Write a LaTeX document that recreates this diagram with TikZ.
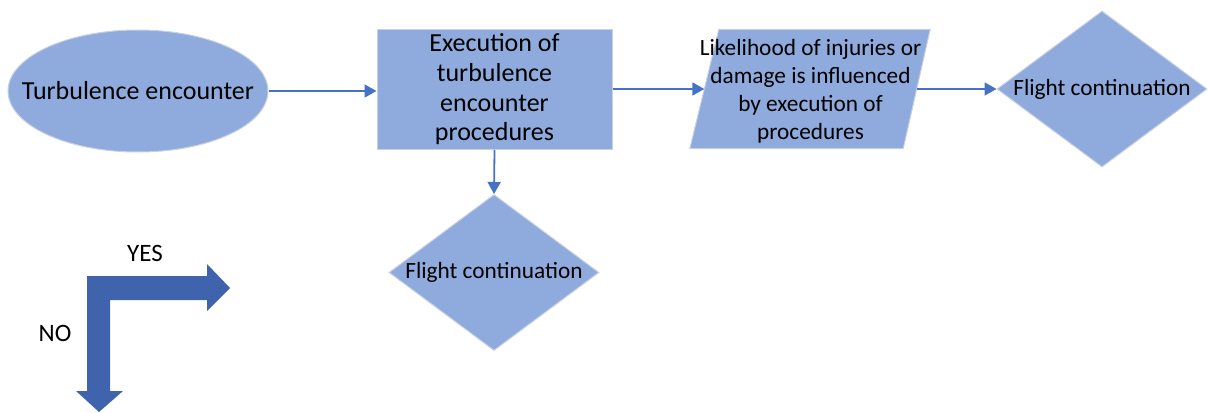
\documentclass[tikz,border=0pt]{standalone}
\usepackage{fontspec}
\setmainfont{Carlito}
\usetikzlibrary{shapes.geometric,arrows.meta,calc}
\definecolor{shapefill}{HTML}{8FAADC}
\definecolor{shapeline}{HTML}{C9D1E0}
\definecolor{linkblue}{HTML}{4472C4}
\definecolor{bentblue}{HTML}{3F64AD}
\tikzset{
  every node/.style={font=\fontsize{23.3}{28}\selectfont, text=black},
  bigtext/.style={font=\fontsize{26}{29.7}\selectfont},
  startshape/.style={ellipse, fill=shapefill, draw=shapeline, line width=1pt,
    minimum width=260pt, minimum height=122pt, inner sep=0pt},
  procbox/.style={rectangle, fill=shapefill, draw=shapeline, line width=1pt,
    minimum width=235pt, minimum height=120pt, inner sep=0pt, align=center, bigtext},
  databox/.style={rectangle, minimum width=212pt, minimum height=119pt,
    inner sep=0pt, align=center},
  decision/.style={diamond, fill=shapefill, draw=shapeline, line width=1pt,
    minimum width=210pt, minimum height=156pt, inner sep=0pt, aspect=1.34},
  link/.style={draw=linkblue, line width=1.8pt,
    -{Triangle[length=12pt,width=13pt]}},
}
\begin{document}
\begin{tikzpicture}[x=1pt,y=-1pt]
  \useasboundingbox (0,0) rectangle (1209,412);

  % main flow
  \node[startshape, label={[bigtext]center:Turbulence encounter}] (start) at (138,91) {};
  \node[procbox] (proc) at (494.5,89.5) {Execution of\\turbulence\\encounter\\procedures};
  \node[databox] (data) at (810.5,89) {};
  \fill[shapefill, draw=shapeline, line width=1pt]
    ($(data.north west)+(14.5,0)$) -- ($(data.north east)+(13.5,0)$)
    -- ($(data.south east)+(-13.5,0)$) -- ($(data.south west)+(-14.5,0)$) -- cycle;
  \node[align=center] at ($(data.center)+(0,2)$) {Likelihood of injuries or\\damage is influenced\\by execution of\\procedures};
  \node[decision, label={center:\raisebox{-2pt}{Flight continuation}}] (contA) at (1102,89) {\phantom{Flight continuation}};
  \node[decision, label={center:\raisebox{-2pt}{Flight continuation}}] (contB) at (494,272.5) {\phantom{Flight continuation}};

  \draw[link] (start.east) -- (start.east -| proc.west);
  \draw[link] (proc.east |- data.west) -- (data.west);
  \draw[link] (data.east) -- (contA.west);
  \draw[link] (proc.south) -- (contB.north);

  % legend: bent arrow
  \fill[bentblue] (87,276) -- (207,276) -- (207,264) -- (230,288) -- (207,311)
    -- (207,300) -- (110,300) -- (110,391) -- (123,391) -- (99,412) -- (76,391)
    -- (87,391) -- cycle;
  \node[font=\fontsize{25}{30}\selectfont] (yes) at (145,253) {YES};
  \node[font=\fontsize{25}{30}\selectfont] (no) at (55,333) {NO};
\end{tikzpicture}
\end{document}
